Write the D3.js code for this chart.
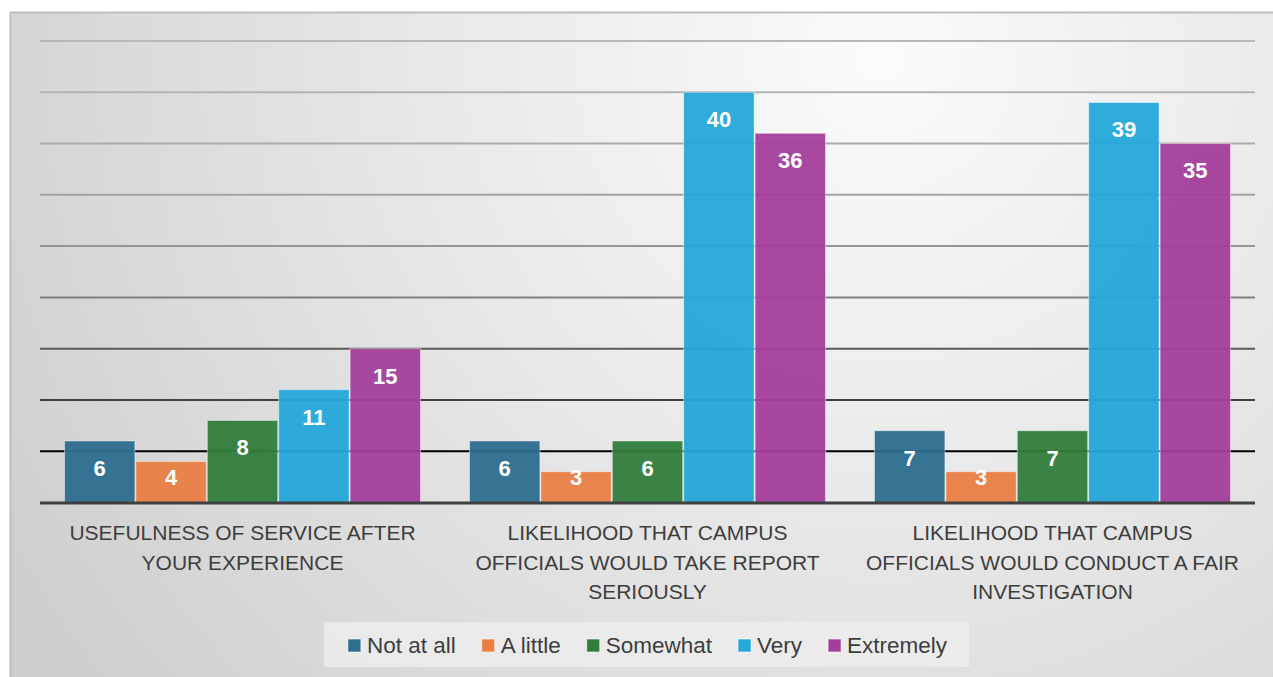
<!DOCTYPE html>
<html>
<head>
<meta charset="utf-8">
<script src="https://cdn.jsdelivr.net/npm/d3@7"></script>
<style>
  html, body { margin: 0; padding: 0; background: #ffffff; overflow: hidden; }
  svg { display: block; }
</style>
</head>
<body>
<svg id="chart" width="1273" height="677"></svg>
<script>
// ---- Data ----
const categories = [
  ["USEFULNESS OF SERVICE AFTER", "YOUR EXPERIENCE"],
  ["LIKELIHOOD THAT CAMPUS", "OFFICIALS WOULD TAKE REPORT", "SERIOUSLY"],
  ["LIKELIHOOD THAT CAMPUS", "OFFICIALS WOULD CONDUCT A FAIR", "INVESTIGATION"]
];
const seriesNames = ["Not at all", "A little", "Somewhat", "Very", "Extremely"];
const notAtAll  = [6, 6, 7];
const aLittle   = [4, 3, 3];
const somewhat  = [8, 6, 7];
const very      = [11, 40, 39];
const extremely = [15, 36, 35];
const gridTicks = [5, 10, 15, 20, 25, 30, 35, 40, 45];

const seriesValues = [notAtAll, aLittle, somewhat, very, extremely];
const colors = ["#2d6d8e", "#ea7e45", "#327c3c", "#24a7d9", "#a43e9c"];

// ---- Layout ----
const svg = d3.select("#chart");
const plot = { left: 40, right: 1255, top: 41, bottom: 502.5 };

const defs = svg.append("defs");
const bg = defs.append("radialGradient").attr("id", "bgGrad")
  .attr("gradientUnits", "userSpaceOnUse")
  .attr("cx", 880).attr("cy", 60).attr("r", 1000);
bg.append("stop").attr("offset", "0%").attr("stop-color", "#fbfbfb");
bg.append("stop").attr("offset", "45%").attr("stop-color", "#e8e8e8");
bg.append("stop").attr("offset", "100%").attr("stop-color", "#cfcfcf");

// chart area background + border
svg.append("rect")
  .attr("x", 10.5).attr("y", 12.5)
  .attr("width", 1300).attr("height", 700)
  .attr("fill", "url(#bgGrad)")
  .attr("stroke", "#bdbdbd").attr("stroke-width", 2);

const y = d3.scaleLinear().domain([0, 45]).range([plot.bottom, plot.top]);
const x0 = d3.scaleBand().domain(d3.range(categories.length)).range([plot.left, plot.right]).padding(0);
const x1 = d3.scaleBand().domain(d3.range(seriesNames.length))
  .range([24, x0.bandwidth() - 24]).padding(0);

// gridlines (darker toward bottom)
const gridColor = d3.scaleLinear()
  .domain([5, 10, 15, 20, 25, 30, 35, 40, 45])
  .range(["#000000", "#404040", "#5a5a5a", "#808080", "#959595", "#a3a3a3", "#ababab", "#b3b3b3", "#b8b8b8"]);

svg.append("g").selectAll("line").data(gridTicks).join("line")
  .attr("x1", plot.left).attr("x2", plot.right)
  .attr("y1", d => y(d)).attr("y2", d => y(d))
  .attr("stroke", d => gridColor(d)).attr("stroke-width", 2);

// bars
const groups = svg.append("g").selectAll("g").data(categories.map((c, i) => i)).join("g")
  .attr("transform", i => `translate(${x0(i)},0)`);

groups.selectAll("rect").data(i => seriesValues.map((arr, s) => ({ s, v: arr[i] }))).join("rect")
  .attr("x", d => x1(d.s) + 0.5)
  .attr("width", x1.bandwidth() - 1)
  .attr("y", d => y(d.v))
  .attr("height", d => y(0) - y(d.v))
  .attr("fill", d => colors[d.s])
  .attr("fill-opacity", 0.95)
  .attr("stroke", "rgba(255,255,255,0.45)")
  .attr("stroke-width", 1);

groups.selectAll("text").data(i => seriesValues.map((arr, s) => ({ s, v: arr[i] }))).join("text")
  .attr("x", d => x1(d.s) + x1.bandwidth() / 2)
  .attr("y", d => Math.min(y(d.v) + 27, y(0) - 25))
  .attr("dy", "0.36em")
  .attr("text-anchor", "middle")
  .attr("font-family", "Liberation Sans, Arial, sans-serif")
  .attr("font-weight", "bold")
  .attr("font-size", 22)
  .attr("fill", "#ffffff")
  .text(d => d.v);

// baseline axis
svg.append("line")
  .attr("x1", plot.left).attr("x2", plot.right)
  .attr("y1", y(0) + 0.5).attr("y2", y(0) + 0.5)
  .attr("stroke", "#404040").attr("stroke-width", 3);

// category labels
const catG = svg.append("g");
categories.forEach((lines, i) => {
  const t = catG.append("text")
    .attr("x", x0(i) + x0.bandwidth() / 2)
    .attr("y", 540)
    .attr("text-anchor", "middle")
    .attr("font-family", "Liberation Sans, Arial, sans-serif")
    .attr("font-size", 21)
    .attr("fill", "#3d3d3d");
  lines.forEach((ln, k) => {
    t.append("tspan").attr("x", x0(i) + x0.bandwidth() / 2)
      .attr("y", 540 + k * 29.7).text(ln);
  });
});

// legend
const lg = svg.append("g");
const lgBox = lg.append("rect").attr("fill", "#ececec").attr("fill-opacity", 0.85);
const items = lg.selectAll("g").data(seriesNames).join("g");
items.append("rect")
  .attr("width", 13).attr("height", 13)
  .attr("y", -14)
  .attr("fill", (d, i) => colors[i])
  .attr("stroke", "rgba(255,255,255,0.6)").attr("stroke-width", 1);
items.append("text")
  .attr("x", 19).attr("y", 0)
  .attr("font-family", "Liberation Sans, Arial, sans-serif")
  .attr("font-size", 22.5)
  .attr("fill", "#3d3d3d")
  .text(d => d);
let cx = 0;
const offsets = [];
items.each(function() {
  offsets.push(cx);
  const w = 19 + d3.select(this).select("text").node().getComputedTextLength();
  cx += w + 26;
});
const totalW = cx - 26;
const centerX = (plot.left + plot.right) / 2;
const startX = centerX - totalW / 2;
const baseY = 653;
items.attr("transform", (d, i) => `translate(${startX + offsets[i]},${baseY})`);
lgBox.attr("x", startX - 24).attr("y", 622).attr("width", totalW + 46).attr("height", 45);
</script>
</body>
</html>
